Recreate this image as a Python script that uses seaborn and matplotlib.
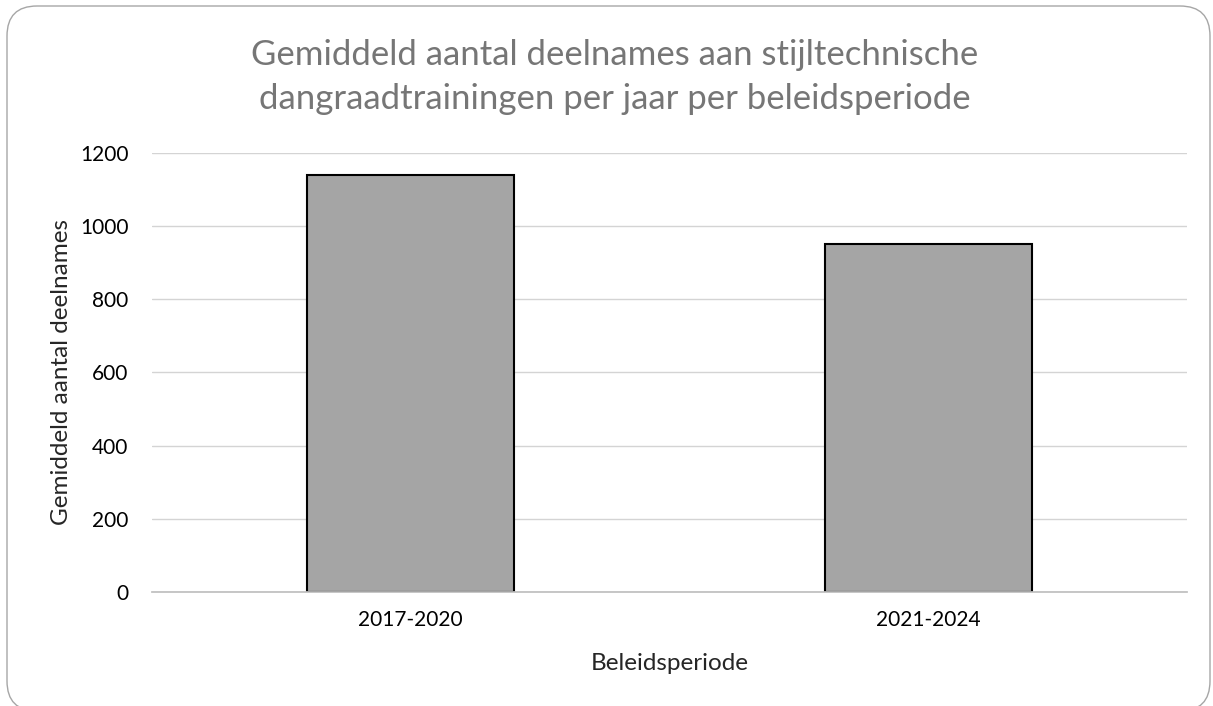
import numpy as np
import pandas as pd
import matplotlib
matplotlib.use('Agg')
import seaborn as sns
import matplotlib.pyplot as plt
from matplotlib.patches import FancyBboxPatch

periods = ["2017-2020", "2021-2024"]
deelnames = [1140, 950]
yticks = [0, 200, 400, 600, 800, 1000, 1200]
title_lines = ["Gemiddeld aantal deelnames aan stijltechnische",
               "dangraadtrainingen per jaar per beleidsperiode"]

sns.set_theme(style="white")
plt.rcParams['font.family'] = ['Lato', 'DejaVu Sans']

db = pd.DataFrame({"periode": periods, "deelnames": deelnames})

fig = plt.figure(figsize=(12.13, 7.06), dpi=100)
ax = fig.add_axes([0.1253, 0.1615, 0.8533, 0.6218])

sns.barplot(x="periode", y="deelnames", data=db, color="#a5a5a5", saturation=1,
            width=0.4, edgecolor="black", linewidth=1.5, ax=ax)

ax.set_ylim(0, 1200)
ax.set_yticks(yticks)
ax.yaxis.grid(True, color="#d4d4d4", linewidth=1)
ax.set_axisbelow(True)
for s in ["top", "right", "left"]:
    ax.spines[s].set_visible(False)
ax.spines["bottom"].set_color("#bfbfbf")
ax.tick_params(axis="both", length=0, labelsize=15, colors="black")
ax.tick_params(axis="y", pad=17)
ax.tick_params(axis="x", pad=13)

ax.set_xlabel("Beleidsperiode", fontsize=17.5, va="baseline")
ax.xaxis.set_label_coords(0.5, -0.1777)
ax.set_ylabel("Gemiddeld aantal deelnames", fontsize=17.5, va="baseline")
ax.yaxis.set_label_coords(-0.081, 0.5)

# title, two lines placed on their baselines
for txt, yb in zip(title_lines, [0.9079, 0.8456]):
    fig.text(0.5065, yb, txt, ha="center", va="baseline", fontsize=25, color="#767676")

# rounded chart border (bottom runs off the edge like the source)
fig.patches.append(FancyBboxPatch((0.07, -0.05), 12.03, 7.05, boxstyle="round,pad=0,rounding_size=0.3",
                                  transform=fig.dpi_scale_trans, fill=False,
                                  edgecolor="#a6a6a6", linewidth=1))

fig.savefig("out.png", dpi=100)
